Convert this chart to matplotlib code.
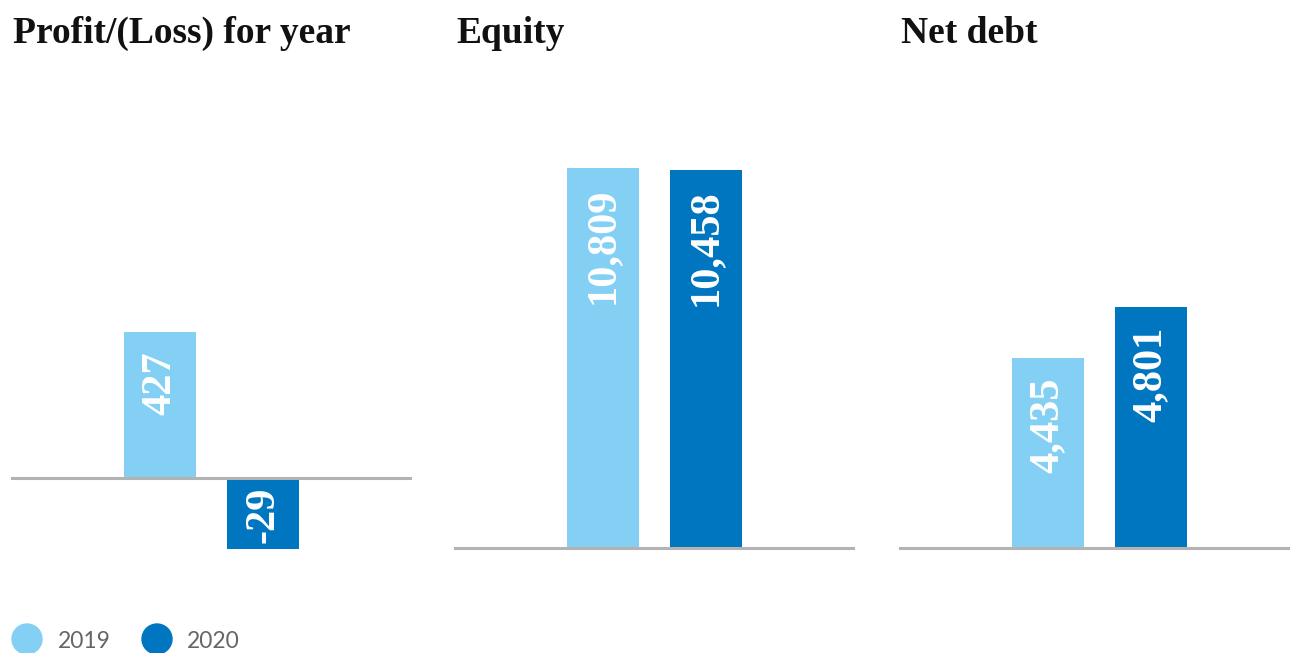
import matplotlib
matplotlib.use("Agg")
import matplotlib.pyplot as plt
from matplotlib.patches import Circle

# ---- data ----
panel_titles = ["Profit/(Loss) for year", "Equity", "Net debt"]
years = ["2019", "2020"]
profit = [427, -29]
equity = [10809, 10458]
net_debt = [4435, 4801]
values = [profit, equity, net_debt]

# ---- styling ----
C_LIGHT = "#84d0f5"
C_DARK = "#0076c0"
C_LINE = "#b3b3b3"
colors = [C_LIGHT, C_DARK]
W, H = 1290, 653
DPI = 100
SERIF = ["Liberation Serif", "DejaVu Serif"]

fig = plt.figure(figsize=(W / DPI, H / DPI), dpi=DPI)

def rect(left, top, right, bottom):
    return [left / W, 1 - bottom / H, (right - left) / W, (bottom - top) / H]

# panel geometry in pixels: (left, top, right, bottom)
geoms = [(12, 332, 410, 549), (455, 168, 853, 548), (900, 307, 1298, 548)]
# value at axis floor per panel (designer's independent scales)
floors = [None, -55881, 3069]
min_neg_frac = 0.487  # negative bars are drawn with a minimum length to fit the label

bar_w = 0.70
xlim = (-1.437, 2.427)
label_off_pt = -14.0
LABEL_FS = 30.5

for i, (vals, geom, floor) in enumerate(zip(values, geoms, floors)):
    ax = fig.add_axes(rect(*geom))
    ax.set_xlim(*xlim)
    ax.axis("off")
    xs = range(len(vals))
    vmax = max(vals)
    if floor is None:
        neg_len = min_neg_frac * vmax
        disp = [v if v >= 0 else -max(abs(v), neg_len) for v in vals]
        ax.set_ylim(-neg_len, vmax)
        bottoms = [0, 0]
        heights = disp
        base = 0
    else:
        ax.set_ylim(floor, vmax)
        bottoms = [floor] * len(vals)
        heights = [v - floor for v in vals]
        base = floor
    ax.bar(xs, heights, bottom=bottoms, width=bar_w, color=colors, zorder=2)
    ax.axhline(base, color=C_LINE, lw=2.2, zorder=3, clip_on=False)
    for x, v, b, h in zip(xs, vals, bottoms, heights):
        lab = f"{v:,}"
        if v >= 0:
            ax.annotate(lab, (x, b + h), xytext=(0, label_off_pt), textcoords="offset points",
                        rotation=90, ha="center", va="top", color="white",
                        fontsize=LABEL_FS, fontweight="bold", family=SERIF, zorder=4)
        else:
            ax.annotate(lab, (x, b + h / 2), xytext=(0, -1), textcoords="offset points",
                        rotation=90, ha="center", va="center", color="white",
                        fontsize=LABEL_FS, fontweight="bold", family=SERIF, zorder=4)
    fig.text((geom[0] + 1) / W, 1 - 43 / H, panel_titles[i], ha="left", va="baseline",
             fontsize=27, fontweight="bold", family=SERIF, color="#111111")

# ---- legend (pixel overlay) ----
lax = fig.add_axes([0, 0, 1, 1], zorder=5)
lax.set_xlim(0, W)
lax.set_ylim(H, 0)
lax.axis("off")
for cx, tx, c, yr in [(27, 58, C_LIGHT, years[0]), (157, 187, C_DARK, years[1])]:
    lax.add_patch(Circle((cx, 639), 15, color=c, clip_on=False))
    lax.text(tx, 648, yr, ha="left", va="baseline", fontsize=16.5, color="#666666",
             family=["Lato", "DejaVu Sans"])

fig.savefig("out.png", dpi=DPI)
